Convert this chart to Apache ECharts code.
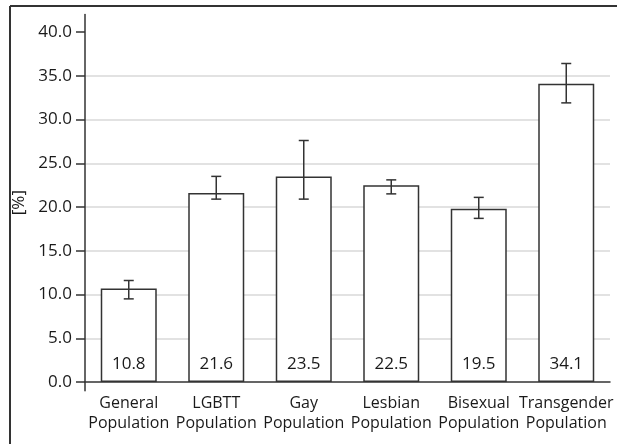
<!DOCTYPE html>
<html>
<head>
<meta charset="utf-8">
<script src="https://cdn.jsdelivr.net/npm/echarts@6/dist/echarts.min.js"></script>
<style>
  html, body { margin: 0; padding: 0; background: #fff; overflow: hidden; }
  #chart { width: 617px; height: 444px; }
</style>
</head>
<body>
<div id="chart"></div>
<script>
var categories = ['General\nPopulation', 'LGBTT\nPopulation', 'Gay\nPopulation',
                  'Lesbian\nPopulation', 'Bisexual\nPopulation', 'Transgender\nPopulation'];
var values = [10.7, 21.6, 23.5, 22.5, 19.8, 34.1];
var valueLabels = ['10.8', '21.6', '23.5', '22.5', '19.5', '34.1'];
var errLow = [9.5, 20.9, 20.9, 21.5, 18.7, 31.9];
var errHigh = [11.6, 23.5, 27.6, 23.1, 21.1, 36.4];
var yTicks = [0, 5, 10, 15, 20, 25, 30, 35, 40];

var font = '"Open Sans", "DejaVu Sans", sans-serif';
var ink = '#333';
var txt = '#1a1a1a';

var errData = categories.map(function (c, i) { return [i, errLow[i], errHigh[i]]; });

var chart = echarts.init(document.getElementById('chart'));
chart.setOption({
  animation: false,
  grid: { left: 85, right: 7, top: 14.5, bottom: 53.25 },
  graphic: [
    { type: 'line', shape: { x1: 10, y1: 6, x2: 617, y2: 6 }, style: { stroke: ink, lineWidth: 2 } },
    { type: 'line', shape: { x1: 10, y1: 6, x2: 10, y2: 444 }, style: { stroke: ink, lineWidth: 2 } }
  ],
  xAxis: {
    type: 'category',
    data: categories,
    axisLine: { onZero: true, lineStyle: { color: ink, width: 1.5 } },
    axisTick: { show: false },
    axisLabel: { color: txt, fontFamily: font, fontSize: 16, lineHeight: 20, margin: 3, interval: 0 }
  },
  yAxis: {
    type: 'value',
    min: -1,
    max: 42,
    name: '[%]',
    nameLocation: 'middle',
    nameGap: 56,
    nameTextStyle: { color: txt, fontFamily: font, fontSize: 17 },
    axisLine: { show: true, lineStyle: { color: ink, width: 1.5 } },
    axisTick: { show: true, length: 9, customValues: yTicks, lineStyle: { color: ink, width: 1.5 } },
    axisLabel: {
      color: txt, fontFamily: font, fontSize: 17, margin: 13,
      customValues: yTicks,
      formatter: function (v) { return v.toFixed(1); }
    },
    splitLine: { show: true, showMinLine: false, showMaxLine: false, lineStyle: { color: '#d9d9d9', width: 1.5 } }
  },
  series: [{
    type: 'bar',
    data: values,
    barWidth: 56,
    itemStyle: { color: '#fff', borderColor: ink, borderWidth: 1.5 },
    label: {
      show: true,
      position: 'insideBottom',
      distance: 9,
      color: txt,
      fontFamily: font,
      fontSize: 17,
      formatter: function (p) { return valueLabels[p.dataIndex]; }
    },
    z: 2
  }, {
    type: 'custom',
    data: errData,
    z: 3,
    renderItem: function (params, api) {
      var x = api.value(0);
      var lo = api.coord([x, api.value(1)]);
      var hi = api.coord([x, api.value(2)]);
      var cap = 5;
      var st = { stroke: ink, lineWidth: 1.5 };
      return {
        type: 'group',
        children: [
          { type: 'line', shape: { x1: lo[0], y1: lo[1], x2: hi[0], y2: hi[1] }, style: st },
          { type: 'line', shape: { x1: lo[0] - cap, y1: lo[1], x2: lo[0] + cap, y2: lo[1] }, style: st },
          { type: 'line', shape: { x1: hi[0] - cap, y1: hi[1], x2: hi[0] + cap, y2: hi[1] }, style: st }
        ]
      };
    }
  }]
});
</script>
</body>
</html>
